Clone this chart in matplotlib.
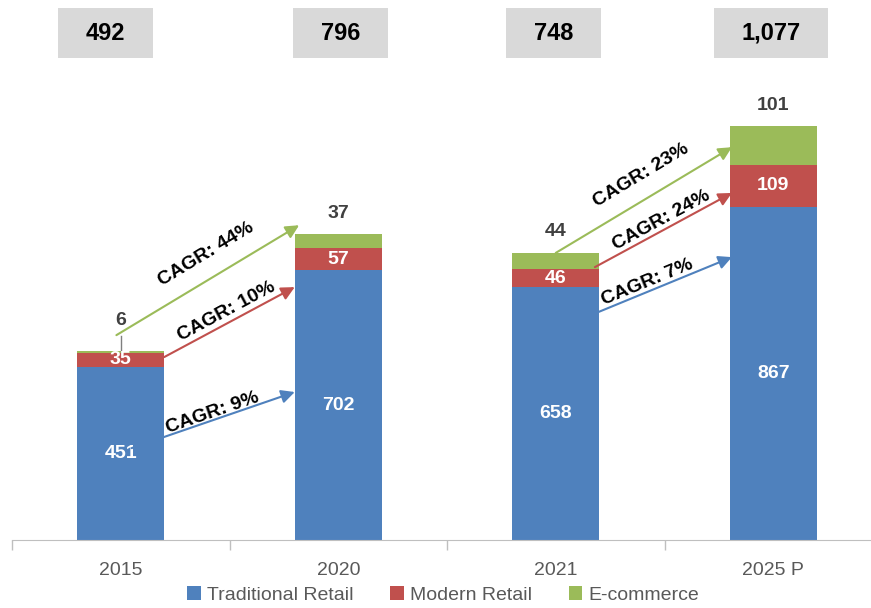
import numpy as np
import matplotlib
matplotlib.use("Agg")
import matplotlib.pyplot as plt
from matplotlib.patches import Rectangle

plt.rcParams['font.family'] = ['Liberation Sans', 'DejaVu Sans']

# data
years = ['2015', '2020', '2021', '2025 P']
traditional = [451, 702, 658, 867]
modern = [35, 57, 46, 109]
ecommerce = [6, 37, 44, 101]
totals = ['492', '796', '748', '1,077']
cagr_labels = ['CAGR: 9%', 'CAGR: 10%', 'CAGR: 44%',
               'CAGR: 7%', 'CAGR: 24%', 'CAGR: 23%']

c_blue = '#4f81bd'
c_red = '#c0504d'
c_green = '#9bbb59'

fig = plt.figure(figsize=(8.71, 6.08), dpi=100)
ax = fig.add_axes([12/871, 1 - 540/608, 870/871, 540/608])
x = np.arange(len(years))
w = 0.40

trad = np.array(traditional)
mod = np.array(modern)
ecom = np.array(ecommerce)

ax.bar(x, trad, w, color=c_blue, label='Traditional Retail')
ax.bar(x, mod, w, bottom=trad, color=c_red, label='Modern Retail')
ax.bar(x, ecom, w, bottom=trad + mod, color=c_green, label='E-commerce')

ax.set_xlim(-0.5, 3.5)
ax.set_ylim(0, 1405)

# labels inside bars
for i in range(len(x)):
    ax.text(x[i], trad[i] / 2, str(trad[i]), ha='center', va='center',
            color='white', fontsize=14, fontweight='bold')
    ax.text(x[i], trad[i] + mod[i] / 2, str(mod[i]), ha='center', va='center',
            color='white', fontsize=14, fontweight='bold')
    top = trad[i] + mod[i] + ecom[i]
    if ecom[i] < 10:
        # small segment -> label with leader line
        ax.plot([x[i], x[i]], [top - 3, top + 38], color='#7f7f7f', lw=1)
        ax.annotate(str(ecom[i]), (x[i], top), xytext=(0, 22), textcoords='offset points',
                    ha='center', va='center', color='#404040', fontsize=14, fontweight='bold')
    else:
        ax.annotate(str(ecom[i]), (x[i], top), xytext=(0, 15), textcoords='offset points',
                    ha='center', va='center', color='#404040', fontsize=14, fontweight='bold')

# total boxes on top
box_shift = [-0.07, 0.01, -0.01, -0.01]
for i in range(len(x)):
    bw = 0.30 + 0.045 * len(totals[i])
    cx = x[i] + box_shift[i]
    ax.add_patch(Rectangle((cx - bw / 2, 1254), bw, 130, facecolor='#d9d9d9',
                           edgecolor='none', clip_on=False))
    ax.text(cx, 1319, totals[i], ha='center', va='center', fontsize=17,
            fontweight='bold', color='black')

# CAGR arrows: (x0, y0, x1, y1, color, along offset px, perpendicular offset px)
arrows = [
    (0.05, 239, 0.80, 385, c_blue, 2, 2),
    (0.20, 476, 0.80, 658, c_red, 2, 6),
    (-0.02, 533, 0.82, 819, c_green, 12, 18),
    (2.015, 551, 2.81, 736, c_blue, 6, 4),
    (2.18, 710, 2.81, 903, c_red, 3, 5),
    (2.00, 747, 2.81, 1022, c_green, 10, 18),
]
for (x0, y0, x1, y1, col, along, perp), lab in zip(arrows, cagr_labels):
    ax.annotate('', xy=(x1, y1), xytext=(x0, y0),
                arrowprops=dict(arrowstyle='-|>', color=col, lw=1.5,
                                mutation_scale=20, shrinkA=0, shrinkB=0))
    p0 = ax.transData.transform((x0, y0))
    p1 = ax.transData.transform((x1, y1))
    ang = np.arctan2(p1[1] - p0[1], p1[0] - p0[0])
    dx = (along * np.cos(ang) - perp * np.sin(ang)) / 1.389
    dy = (along * np.sin(ang) + perp * np.cos(ang)) / 1.389
    ax.annotate(lab, ((x0 + x1) / 2, (y0 + y1) / 2), xytext=(dx, dy),
                textcoords='offset points', rotation=np.degrees(ang),
                rotation_mode='anchor', ha='center', va='baseline',
                fontsize=14, fontweight='bold', color='black')

# axes styling
for s in ['top', 'right', 'left']:
    ax.spines[s].set_visible(False)
ax.spines['bottom'].set_color('#bfbfbf')
ax.set_yticks([])
ax.set_xticks(x)
ax.set_xticklabels(years, fontsize=14, color='#595959')
ax.tick_params(axis='x', which='major', length=0, pad=16)
ax.set_xticks(np.arange(-0.5, 3.6, 1.0), minor=True)
ax.tick_params(axis='x', which='minor', length=7, color='#bfbfbf', width=1)

fig.legend(loc='center', bbox_to_anchor=(443/871, 1 - 595/608), ncol=3, frameon=False,
           fontsize=14, handlelength=0.7, handleheight=0.7, handletextpad=0.3,
           columnspacing=1.9, labelcolor='#595959')

fig.savefig('out.png', dpi=100)
